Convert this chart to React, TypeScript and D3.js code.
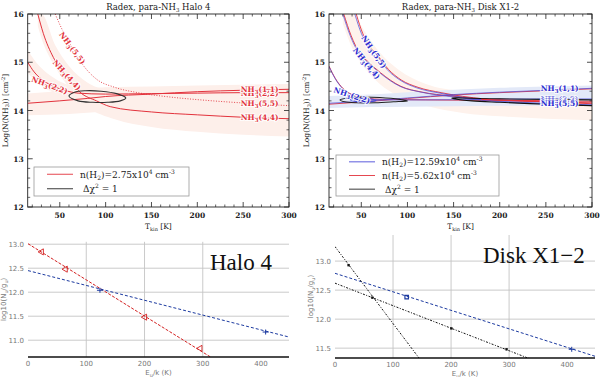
import * as d3 from "d3";

// ---------- top panels: Radex N(NH3) vs Tkin ----------
const tkinDomain = [15, 300];
const logNDomain = [12, 16];
const tkinTicks = [50, 100, 150, 200, 250, 300];
const logNTicks = [12, 13, 14, 15, 16];

// Halo 4, n(H2)=2.75e4  [Tkin, logN]
const halo11 = [[15, 14.15], [50, 14.2], [80, 14.25], [100, 14.29], [150, 14.34], [200, 14.39], [250, 14.42], [300, 14.44]];
const halo22 = [[15, 15.0], [22, 14.8], [30, 14.65], [41, 14.52], [55, 14.42], [70, 14.36], [100, 14.34], [150, 14.35], [200, 14.36], [250, 14.37], [300, 14.37]];
const halo44 = [[26, 16], [32, 15.6], [43, 15.1], [58, 14.7], [72, 14.38], [90, 14.2], [105, 14.08], [150, 13.97], [200, 13.91], [250, 13.86], [300, 13.83]];
const halo55 = [[45, 16], [52, 15.7], [62, 15.35], [75, 14.95], [90, 14.65], [110, 14.48], [135, 14.37], [170, 14.28], [210, 14.21], [255, 14.15], [300, 14.1]];
// uncertainty bands [Tkin, low, high]
const haloBand44 = [[26, 15.75, 16], [30, 15.5, 16], [45, 14.9, 15.35], [60, 14.48, 14.92], [80, 14.08, 14.58], [110, 13.82, 14.4], [150, 13.66, 14.35], [200, 13.56, 14.3], [250, 13.5, 14.3], [300, 13.46, 14.3]];
const haloBand11 = [[15, 13.9, 14.35], [60, 13.93, 14.42], [100, 13.98, 14.48], [150, 14.02, 14.5], [200, 14.05, 14.52], [300, 14.1, 14.55]];
const haloBand22 = [[15, 14.78, 15.25], [25, 14.58, 14.98], [40, 14.4, 14.72], [55, 14.3, 14.56], [70, 14.22, 14.48]];
const haloChi = [[60, 14.3], [66, 14.38], [78, 14.41], [95, 14.4], [112, 14.35], [122, 14.26], [116, 14.2], [102, 14.17], [86, 14.17], [70, 14.2]];

// Disk X1-2, n(H2)=12.59e4 (blue) and 5.62e4 (red)
const disk11b = [[15, 14.15], [60, 14.2], [100, 14.26], [150, 14.33], [200, 14.38], [250, 14.42], [300, 14.46]];
const disk22b = [[15, 14.91], [22, 14.65], [30, 14.45], [40, 14.32], [55, 14.25], [73, 14.22], [120, 14.22], [180, 14.23], [240, 14.24], [300, 14.24]];
const disk44b = [[30, 16], [38, 15.55], [47, 15.2], [57, 15.0], [70, 14.78], [92, 14.5], [115, 14.38], [146, 14.29], [200, 14.18], [250, 14.14], [300, 14.12]];
const disk55b = [[43, 16], [50, 15.6], [57, 15.35], [65, 15.19], [78, 14.85], [92, 14.63], [110, 14.47], [135, 14.36], [182, 14.22], [236, 14.16], [300, 14.1]];
const disk11r = [[15, 14.13], [60, 14.19], [100, 14.25], [150, 14.32], [200, 14.37], [250, 14.41], [300, 14.45]];
const disk22r = [[15, 14.92], [22, 14.66], [30, 14.46], [40, 14.33], [55, 14.26], [73, 14.23], [120, 14.22], [180, 14.21], [240, 14.2], [300, 14.19]];
const disk44r = [[31, 16], [39, 15.55], [48, 15.2], [58, 15.0], [71, 14.78], [93, 14.5], [116, 14.38], [147, 14.3], [200, 14.21], [250, 14.18], [300, 14.16]];
const disk55r = [[44.5, 16], [51.5, 15.6], [58.5, 15.35], [66.5, 15.17], [79.5, 14.85], [93.5, 14.63], [111.5, 14.48], [136.5, 14.37], [183, 14.24], [236, 14.19], [300, 14.14]];
const diskBandBlue = [[15, 14.05, 14.3], [60, 14.07, 14.33], [100, 14.08, 14.38], [150, 14.09, 14.43], [200, 14.1, 14.47], [250, 14.1, 14.5], [300, 14.1, 14.52]];
const diskBandRed = [[30, 15.8, 16], [40, 15.3, 16], [55, 14.85, 15.6], [70, 14.55, 15.2], [90, 14.3, 14.85], [120, 14.1, 14.55], [160, 13.95, 14.4], [200, 13.88, 14.35], [250, 13.83, 14.35], [300, 13.8, 14.35]];
const diskChiLeft = [[27, 14.22], [35, 14.26], [50, 14.28], [70, 14.27], [92, 14.23], [100, 14.2], [85, 14.18], [65, 14.16], [45, 14.16], [32, 14.18]];
const diskChiLeftBlue = [[38, 14.22], [48, 14.25], [60, 14.24], [66, 14.21], [56, 14.18], [44, 14.19]];
const diskChiRight = [[300, 14.22], [250, 14.23], [200, 14.24], [160, 14.26], [148, 14.26], [152, 14.24], [170, 14.2], [200, 14.17], [250, 14.13], [300, 14.1]];
const diskChiRightRed = [[180, 14.23], [210, 14.21], [240, 14.2], [265, 14.19]];

// ---------- bottom panels: rotation diagrams ----------
const euTicks = [0, 100, 200, 300, 400];
const haloNuTicks = [11.0, 11.5, 12.0, 12.5, 13.0];
const diskNuTicks = [11.5, 12.0, 12.5, 13.0];

const haloRedPts = [[23.4, 12.84], [64.4, 12.48], [200.5, 11.48], [295.6, 10.83]];
const haloBluePts = [[123.5, 12.04], [407.9, 11.17]];
const haloRedFit = [[0, 13.01], [320, 10.6]];
const haloBlueFit = [[0, 12.45], [450, 11.06]];

const diskBluePts = [[123.5, 12.38], [407.9, 11.48]];
const diskBlackPts = [[23.4, 12.93], [64.4, 12.37], [200.5, 11.84], [295.6, 11.48]];
const diskBlueFit = [[0, 12.79], [448, 11.36]];
const diskBlackFitA = [[0, 13.25], [150, 11.26]];
const diskBlackFitB = [[0, 12.62], [340, 11.3]];

const RED = "#e2323c";
const BLUE = "#4a4ad8";
const serif = "'DejaVu Serif', 'Liberation Serif', serif";
const times = "'Liberation Serif', serif";
const sans = "'DejaVu Sans', sans-serif";

function NH3({ t }: { t: string }) {
  return (
    <>
      NH<tspan fontSize="5.5" dy="2">3</tspan>
      <tspan dy="-2">{t}</tspan>
    </>
  );
}

type Curve = { pts: number[][]; color: string; dash?: string; opacity?: number; width?: number };
type Contour = { pts: number[][]; color: string; closed: boolean };
type Label = { t: string; T: number; v: number; angle: number };

function TopPanel(props: {
  id: string; x0: number; x1: number; title: string;
  bands: { pts: number[][]; fill: string }[];
  curves: Curve[]; contours: Contour[]; labels: Label[]; labelColor: string;
  legend: { color: string; text: "n" | "chi"; value?: string }[];
  legendBox: number[];
}) {
  const { id, x0, x1, title, bands, curves, contours, labels, labelColor, legend, legendBox } = props;
  const y0 = 14, y1 = 207;
  const x = d3.scaleLinear().domain(tkinDomain).range([x0, x1]);
  const y = d3.scaleLinear().domain(logNDomain).range([y1, y0]);
  const line = d3.line<number[]>().x((d) => x(d[0])).y((d) => y(d[1])).curve(d3.curveMonotoneX);
  const area = d3.area<number[]>().x((d) => x(d[0])).y0((d) => y(d[1])).y1((d) => y(d[2])).curve(d3.curveMonotoneX);
  const closed = d3.line<number[]>().x((d) => x(d[0])).y((d) => y(d[1])).curve(d3.curveCatmullRomClosed);
  const open = d3.line<number[]>().x((d) => x(d[0])).y((d) => y(d[1])).curve(d3.curveCatmullRom);
  const xMinor = d3.range(20, 301, 10).filter((v) => v % 50 !== 0);
  const yMinor = d3.range(12.2, 16, 0.2).filter((v) => Math.abs(v - Math.round(v)) > 0.01);
  const [lx0, ly0, lx1, ly1] = legendBox;
  const rowH = (ly1 - ly0) / legend.length;

  return (
    <g>
      <defs>
        <clipPath id={id}>
          <rect x={x0} y={y0} width={x1 - x0} height={y1 - y0} />
        </clipPath>
      </defs>
      <text x={(x0 + x1) / 2} y={10} textAnchor="middle" fontFamily={serif} fontSize="8.5" fill="#222">
        {title.split("NH3")[0]}NH<tspan fontSize="5.5" dy="2">3</tspan><tspan dy="-2">{title.split("NH3")[1]}</tspan>
      </text>
      <g clipPath={`url(#${id})`}>
        {bands.map((b, i) => (
          <path key={i} d={area(b.pts) ?? ""} fill={b.fill} />
        ))}
        {curves.map((c, i) => (
          <path key={i} d={line(c.pts) ?? ""} fill="none" stroke={c.color} strokeWidth={c.width ?? 1}
            strokeDasharray={c.dash} opacity={c.opacity ?? 1} />
        ))}
        {contours.map((c, i) => (
          <path key={i} d={(c.closed ? closed(c.pts) : open(c.pts)) ?? ""} fill="none" stroke={c.color} strokeWidth={1.1} />
        ))}
        {labels.map((l, i) => (
          <text key={i} transform={`translate(${x(l.T)},${y(l.v)}) rotate(${l.angle})`} textAnchor="middle" dy="3"
            fontFamily={serif} fontWeight="bold" fontSize="7.5" fill={labelColor}
            stroke="white" strokeWidth={2} strokeOpacity={0.85} paintOrder="stroke">
            <NH3 t={l.t} />
          </text>
        ))}
      </g>
      {/* legend */}
      <rect x={lx0} y={ly0} width={lx1 - lx0} height={ly1 - ly0} fill="white" stroke="#999" strokeWidth={0.8} />
      {legend.map((l, i) => {
        const cy = ly0 + rowH * (i + 0.5);
        return (
          <g key={i}>
            <line x1={lx0 + 13} x2={lx0 + 39} y1={cy} y2={cy} stroke={l.color} strokeWidth={0.9} />
            {l.text === "n" ? (
              <text x={lx0 + 46} y={cy + 3.5} fontFamily={serif} fontSize="9" fill="#222">
                n(H<tspan fontSize="6" dy="2">2</tspan><tspan dy="-2">)={l.value}x10</tspan>
                <tspan fontSize="6" dy="-4">4</tspan><tspan dy="4"> cm</tspan>
                <tspan fontSize="6" dy="-4">-3</tspan>
              </text>
            ) : (
              <text x={lx0 + 49} y={cy + 3.5} fontFamily={serif} fontSize="9" fill="#222">
                Δχ<tspan fontSize="6" dy="-4">2</tspan><tspan dy="4"> = 1</tspan>
              </text>
            )}
          </g>
        );
      })}
      {/* frame and ticks */}
      <rect x={x0} y={y0} width={x1 - x0} height={y1 - y0} fill="none" stroke="#222" strokeWidth={0.9} />
      {tkinTicks.map((t) => (
        <g key={t}>
          <line x1={x(t)} x2={x(t)} y1={y1} y2={y1 - 5} stroke="#222" strokeWidth={0.8} />
          <line x1={x(t)} x2={x(t)} y1={y0} y2={y0 + 5} stroke="#222" strokeWidth={0.8} />
          <text x={x(t)} y={y1 + 11} textAnchor="middle" fontFamily={serif} fontWeight="bold" fontSize="7.5" fill="#222">{t}</text>
        </g>
      ))}
      {xMinor.map((t) => (
        <g key={t}>
          <line x1={x(t)} x2={x(t)} y1={y1} y2={y1 - 2.5} stroke="#222" strokeWidth={0.7} />
          <line x1={x(t)} x2={x(t)} y1={y0} y2={y0 + 2.5} stroke="#222" strokeWidth={0.7} />
        </g>
      ))}
      {logNTicks.map((t) => (
        <g key={t}>
          <line x1={x0} x2={x0 + 5} y1={y(t)} y2={y(t)} stroke="#222" strokeWidth={0.8} />
          <line x1={x1} x2={x1 - 5} y1={y(t)} y2={y(t)} stroke="#222" strokeWidth={0.8} />
          <text x={x0 - 4} y={y(t) + 3} textAnchor="end" fontFamily={serif} fontWeight="bold" fontSize="7.5" fill="#222">{t}</text>
        </g>
      ))}
      {yMinor.map((t) => (
        <g key={t}>
          <line x1={x0} x2={x0 + 2.5} y1={y(t)} y2={y(t)} stroke="#222" strokeWidth={0.7} />
          <line x1={x1} x2={x1 - 2.5} y1={y(t)} y2={y(t)} stroke="#222" strokeWidth={0.7} />
        </g>
      ))}
      <text x={(x0 + x1) / 2} y={y1 + 22} textAnchor="middle" fontFamily={serif} fontSize="7.5" fill="#222">
        T<tspan fontSize="5" dy="1.5">kin</tspan><tspan dy="-1.5"> [K]</tspan>
      </text>
      <text transform={`translate(${x0 - 20},${(y0 + y1) / 2}) rotate(-90)`} textAnchor="middle" fontFamily={serif} fontSize="7.5" fill="#222">
        Log(N(NH<tspan fontSize="5" dy="1.5">3</tspan><tspan dy="-1.5">)) [cm</tspan>
        <tspan fontSize="5" dy="-3">-2</tspan><tspan dy="3">]</tspan>
      </text>
    </g>
  );
}

type Fit = { pts: number[][]; color: string; dash: string };
type Pts = { pts: number[][]; color: string; shape: "tri" | "plus" | "square" | "dot" };

function BottomPanel(props: {
  id: string; x0: number; x1: number; y0: number; y1: number; domainY: number[]; ticksY: number[];
  fits: Fit[]; points: Pts[]; name: string; nameX: number;
}) {
  const { id, x0, x1, y0, y1, domainY, ticksY, fits, points, name, nameX } = props;
  const x = d3.scaleLinear().domain([0, 448]).range([x0, x1]);
  const y = d3.scaleLinear().domain(domainY).range([y1, y0]);
  const line = d3.line<number[]>().x((d) => x(d[0])).y((d) => y(d[1]));
  const tri = d3.symbol().type(d3.symbolTriangle).size(16)();
  const sq = d3.symbol().type(d3.symbolSquare).size(12)();
  const grey = "#777";
  return (
    <g>
      <defs>
        <clipPath id={id}>
          <rect x={x0} y={y0} width={x1 - x0} height={y1 - y0} />
        </clipPath>
      </defs>
      {[100, 200, 300].map((t) => (
        <line key={t} x1={x(t)} x2={x(t)} y1={y0} y2={y1} stroke="#c4c4c4" strokeWidth={0.9} />
      ))}
      {ticksY.map((t) => (
        <line key={t} x1={x0} x2={x1} y1={y(t)} y2={y(t)} stroke="#c4c4c4" strokeWidth={0.9} />
      ))}
      <text x={nameX} y={y0 + 28} fontFamily={times} fontSize="23" fill="#111">{name}</text>
      <g clipPath={`url(#${id})`}>
        {fits.map((f, i) => (
          <path key={i} d={line(f.pts) ?? ""} fill="none" stroke={f.color} strokeWidth={1} strokeDasharray={f.dash} />
        ))}
        {points.map((p, i) =>
          p.pts.map((d, j) => {
            const tr = `translate(${x(d[0])},${y(d[1])})`;
            if (p.shape === "tri")
              return <path key={`${i}-${j}`} d={tri ?? ""} transform={`${tr} rotate(-90)`} fill="none" stroke={p.color} strokeWidth={0.9} />;
            if (p.shape === "square")
              return <path key={`${i}-${j}`} d={sq ?? ""} transform={tr} fill="none" stroke={p.color} strokeWidth={1.2} />;
            if (p.shape === "dot")
              return <rect key={`${i}-${j}`} x={x(d[0]) - 1.2} y={y(d[1]) - 1.2} width={2.4} height={2.4} fill={p.color} />;
            return (
              <g key={`${i}-${j}`} stroke={p.color} strokeWidth={1}>
                <line x1={x(d[0]) - 3} x2={x(d[0]) + 3} y1={y(d[1])} y2={y(d[1])} />
                <line x1={x(d[0])} x2={x(d[0])} y1={y(d[1]) - 2.5} y2={y(d[1]) + 2.5} />
              </g>
            );
          })
        )}
      </g>
      <line x1={x0} x2={x1} y1={y1} y2={y1} stroke="#111" strokeWidth={1.4} />
      {euTicks.map((t) => (
        <text key={t} x={x(t)} y={y1 + 9} textAnchor="middle" fontFamily={sans} fontSize="7" fill={grey}>{t}</text>
      ))}
      {ticksY.map((t) => (
        <text key={t} x={x0 - 4} y={y(t) + 2.5} textAnchor="end" fontFamily={sans} fontSize="7" fill={grey}>{t.toFixed(1)}</text>
      ))}
      <text x={(x0 + x1) / 2} y={y1 + 18} textAnchor="middle" fontFamily={sans} fontSize="7" fill={grey}>
        E<tspan fontSize="5" dy="1.5">u</tspan><tspan dy="-1.5">/k (K)</tspan>
      </text>
      <text transform={`translate(${x0 - 22},${(y0 + y1) / 2}) rotate(-90)`} textAnchor="middle" fontFamily={sans} fontSize="7" fill={grey}>
        log10(N<tspan fontSize="5" dy="1.5">u</tspan><tspan dy="-1.5">/g</tspan><tspan fontSize="5" dy="1.5">u</tspan><tspan dy="-1.5">)</tspan>
      </text>
    </g>
  );
}

export default function App() {
  const pinkBand = "#fdefea";
  return (
    <div style={{ position: "fixed", left: 0, top: 0 }}>
      <svg width={600} height={377} style={{ display: "block", background: "white" }}>
        <TopPanel
          id="clipHalo" x0={27.7} x1={289} title="Radex, para-NH3 Halo 4"
          bands={[
            { pts: haloBand44, fill: pinkBand },
            { pts: haloBand11, fill: pinkBand },
            { pts: haloBand22, fill: pinkBand },
          ]}
          curves={[
            { pts: halo11, color: RED },
            { pts: halo22, color: RED },
            { pts: halo44, color: RED },
            { pts: halo55, color: RED, dash: "1,1.6", width: 0.9 },
          ]}
          contours={[{ pts: haloChi, color: "#333", closed: true }]}
          labels={[
            { t: "(5,5)", T: 64, v: 15.3, angle: 53 },
            { t: "(4,4)", T: 58, v: 14.74, angle: 48 },
            { t: "(2,2)", T: 39, v: 14.53, angle: 20 },
            { t: "(2,2)", T: 268, v: 14.37, angle: 0 },
            { t: "(1,1)", T: 268, v: 14.44, angle: 0 },
            { t: "(5,5)", T: 268, v: 14.16, angle: 0 },
            { t: "(4,4)", T: 268, v: 13.87, angle: 0 },
          ]}
          labelColor={RED}
          legend={[
            { color: RED, text: "n", value: "2.75" },
            { color: "#222", text: "chi" },
          ]}
          legendBox={[34, 167, 189, 196]}
        />
        <TopPanel
          id="clipDisk" x0={329} x1={592} title="Radex, para-NH3 Disk X1-2"
          bands={[
            { pts: diskBandRed, fill: "#fef2ec" },
            { pts: diskBandBlue, fill: "#e3e9f8" },
          ]}
          curves={[
            { pts: disk11r, color: RED, opacity: 0.9 },
            { pts: disk22r, color: RED, opacity: 0.9 },
            { pts: disk44r, color: RED, opacity: 0.9 },
            { pts: disk55r, color: RED, opacity: 0.9 },
            { pts: disk11b, color: BLUE, opacity: 0.7 },
            { pts: disk22b, color: BLUE, opacity: 0.7 },
            { pts: disk44b, color: BLUE, opacity: 0.7 },
            { pts: disk55b, color: BLUE, opacity: 0.7 },
          ]}
          contours={[
            { pts: diskChiLeft, color: "#222", closed: true },
            { pts: diskChiLeftBlue, color: BLUE, closed: true },
            { pts: diskChiRight, color: "#111", closed: false },
            { pts: diskChiRightRed, color: RED, closed: false },
          ]}
          labels={[
            { t: "(5,5)", T: 64, v: 15.22, angle: 55 },
            { t: "(4,4)", T: 56, v: 14.98, angle: 51 },
            { t: "(2,2)", T: 40, v: 14.32, angle: 18 },
            { t: "(1,1)", T: 265, v: 14.47, angle: 0 },
            { t: "(2,2)", T: 265, v: 14.24, angle: 0 },
            { t: "(4,4)", T: 265, v: 14.19, angle: 0 },
            { t: "(5,5)", T: 265, v: 14.16, angle: 0 },
          ]}
          labelColor="#2a2ad0"
          legend={[
            { color: BLUE, text: "n", value: "12.59" },
            { color: RED, text: "n", value: "5.62" },
            { color: "#222", text: "chi" },
          ]}
          legendBox={[336, 155, 499, 196]}
        />
        <BottomPanel
          id="clipRotHalo" x0={28} x1={289} y0={241.8} y1={357} domainY={[10.65, 13.05]} ticksY={haloNuTicks}
          fits={[
            { pts: haloRedFit, color: "#d42020", dash: "3,1.5" },
            { pts: haloBlueFit, color: "#1c3aa0", dash: "3,2" },
          ]}
          points={[
            { pts: haloRedPts, color: "#d42020", shape: "tri" },
            { pts: haloBluePts, color: "#1c3aa0", shape: "plus" },
          ]}
          name="Halo 4" nameX={210}
        />
        <BottomPanel
          id="clipRotDisk" x0={335} x1={595} y0={235} y1={358} domainY={[11.33, 13.45]} ticksY={diskNuTicks}
          fits={[
            { pts: diskBlueFit, color: "#1c3aa0", dash: "3,2" },
            { pts: diskBlackFitA, color: "#111", dash: "2,1.5,1,1.5" },
            { pts: diskBlackFitB, color: "#111", dash: "2,1.5,1,1.5" },
          ]}
          points={[
            { pts: diskBluePts.slice(0, 1), color: "#1c3aa0", shape: "square" },
            { pts: diskBluePts.slice(1), color: "#1c3aa0", shape: "plus" },
            { pts: diskBlackPts, color: "#111", shape: "dot" },
          ]}
          name="Disk X1−2" nameX={483}
        />
      </svg>
    </div>
  );
}
